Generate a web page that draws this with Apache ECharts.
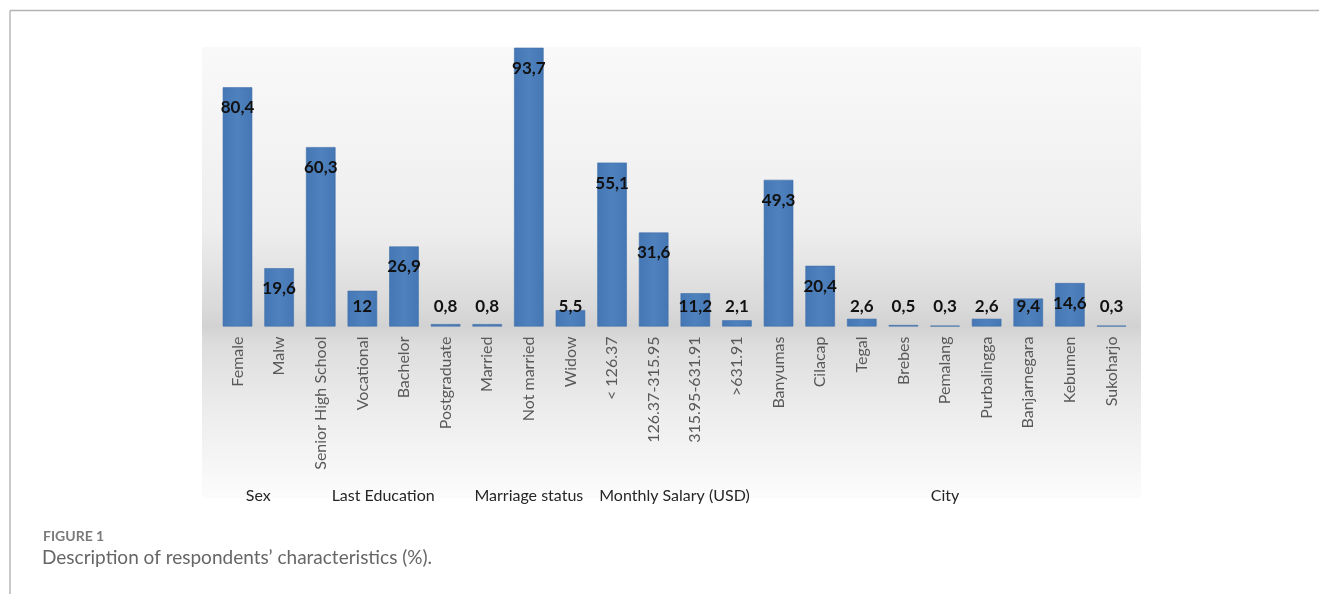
<!DOCTYPE html>
<html>
<head>
<meta charset="utf-8">
<script src="https://cdn.jsdelivr.net/npm/echarts@6/dist/echarts.min.js"></script>
<style>
  html, body { margin: 0; padding: 0; background: #ffffff; }
  #chart { width: 1319px; height: 594px; }
</style>
</head>
<body>
<div id="chart"></div>
<script>
// ---- data ----
const categories = ['Female', 'Malw', 'Senior High School', 'Vocational', 'Bachelor', 'Postgraduate',
  'Married', 'Not married', 'Widow', '< 126.37', '126.37-315.95', '315.95-631.91', '>631.91',
  'Banyumas', 'Cilacap', 'Tegal', 'Brebes', 'Pemalang', 'Purbalingga', 'Banjarnegara', 'Kebumen', 'Sukoharjo'];
const values = [80.4, 19.6, 60.3, 12, 26.9, 0.8, 0.8, 93.7, 5.5, 55.1, 31.6, 11.2, 2.1,
  49.3, 20.4, 2.6, 0.5, 0.3, 2.6, 9.4, 14.6, 0.3];
const groupNames = ['Sex', 'Last Education', 'Marriage status', 'Monthly Salary (USD)', 'City'];
const groupSizes = [2, 4, 3, 4, 9];
const captionLabel = 'FIGURE 1';
const captionText = 'Description of respondents\u2019 characteristics (%).';

const chart = echarts.init(document.getElementById('chart'), null, { renderer: 'canvas' });

const labelFont = { fontFamily: 'Lato', fontWeight: 'bold', fontSize: 17, color: '#111111' };
const barData = values.map(v => ({
  value: v,
  label: v < 13
    ? Object.assign({ show: true, position: 'insideBottom', distance: 11 }, labelFont)
    : Object.assign({ show: true, position: 'insideTop', distance: 12 }, labelFont)
}));

const gridTop = 29, gridHeight = 297.5;

const option = {
  animation: false,
  backgroundColor: '#ffffff',
  grid: { left: 216.7, right: 186.7, top: gridTop, height: gridHeight, containLabel: false },
  xAxis: {
    type: 'category',
    data: categories,
    axisLine: { show: false },
    axisTick: { show: false },
    axisLabel: {
      rotate: 90, interval: 0, margin: 10,
      fontFamily: 'Lato', fontSize: 16, color: '#595959'
    }
  },
  yAxis: {
    type: 'value', min: 0, max: 100,
    show: false, splitLine: { show: false }
  },
  series: [{
    type: 'bar',
    data: barData,
    barCategoryGap: '29%',
    itemStyle: {
      color: new echarts.graphic.LinearGradient(0, 0, 1, 0, [
        { offset: 0, color: '#4577b5' },
        { offset: 0.5, color: '#4f81bd' },
        { offset: 1, color: '#4577b5' }
      ]),
      borderColor: '#3f6fa9', borderWidth: 0.6
    },
    label: {
      show: true,
      formatter: p => String(p.value).replace('.', ',')
    }
  }],
  graphic: []
};

chart.setOption(option);

// background panel, frame, captions, group labels
const graphics = [
  {
    type: 'rect', z: -10, silent: true,
    shape: { x: 202, y: 47, width: 939, height: 451 },
    style: {
      fill: new echarts.graphic.LinearGradient(0, 0, 0, 1, [
        { offset: 0, color: '#f9f9f9' },
        { offset: 0.40, color: '#eeeeee' },
        { offset: 0.58, color: '#d9d9d9' },
        { offset: 0.62, color: '#d2d2d2' },
        { offset: 0.66, color: '#dddddd' },
        { offset: 0.80, color: '#ececec' },
        { offset: 1, color: '#fcfcfc' }
      ])
    }
  },
  { type: 'line', silent: true, shape: { x1: 10, y1: 10.5, x2: 1319, y2: 10.5 }, style: { stroke: '#b3b3b3', lineWidth: 1.4 } },
  { type: 'line', silent: true, shape: { x1: 10, y1: 10.5, x2: 10, y2: 594 }, style: { stroke: '#b3b3b3', lineWidth: 1.4 } },
  { type: 'text', silent: true, left: 43, top: 529,
    style: { text: captionLabel, fontFamily: 'Lato', fontWeight: 'bold', fontSize: 14, fill: '#7a7a7a' } },
  { type: 'text', silent: true, left: 42, top: 548,
    style: { text: captionText, fontFamily: 'Lato', fontSize: 19, fill: '#666666' } }
];

let start = 0;
groupNames.forEach((name, i) => {
  const a = chart.convertToPixel({ xAxisIndex: 0 }, categories[start]);
  const b = chart.convertToPixel({ xAxisIndex: 0 }, categories[start + groupSizes[i] - 1]);
  const cx = (a + b) / 2;
  graphics.push({
    type: 'text', silent: true, x: cx, y: 496,
    style: { text: name, fontFamily: 'Lato', fontSize: 16, fill: '#262626', align: 'center', verticalAlign: 'middle' }
  });
  start += groupSizes[i];
});

chart.setOption({ graphic: graphics });
</script>
</body>
</html>
